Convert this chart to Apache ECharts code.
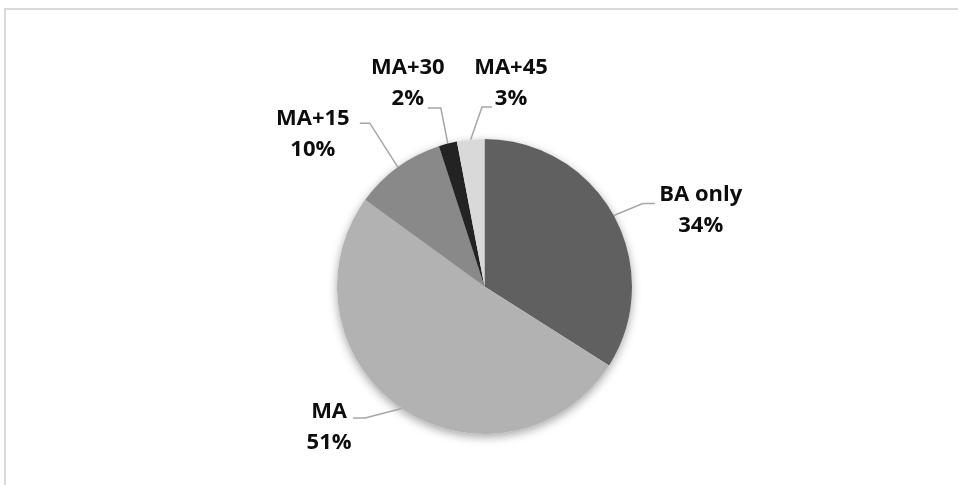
<!DOCTYPE html>
<html>
<head>
<meta charset="utf-8">
<script src="https://cdn.jsdelivr.net/npm/echarts@6/dist/echarts.min.js"></script>
<style>
  html, body { margin: 0; padding: 0; background: #ffffff; }
  #chart { width: 958px; height: 485px; }
</style>
</head>
<body>
<div id="chart"></div>
<script>
// Degree mix of staff
const categories = ['BA only', 'MA', 'MA+15', 'MA+30', 'MA+45'];
const shares = [34, 51, 10, 2, 3];

// Slice fills, one per category
const sliceColors = ['#606060', '#b2b2b2', '#898989', '#232323', '#d9d9d9'];

// Leader-line routing for each label: knee offset from the slice rim point,
// length of the horizontal tail (signed), and text centre offset from the tail end.
const leaderGuides = [
  { knee: [29, -12],   tail: 12,  text: [46, 6.5] },
  { knee: [-36.5, 9.5], tail: -12, text: [-24, 9] },
  { knee: [-28, -44],  tail: -10, text: [-47, 10.7] },
  { knee: [-7, -35.6], tail: -13, text: [-20, -25] },
  { knee: [11.4, -32.7], tail: 10, text: [19, -24] }
];

const PIE_CENTER = [484.5, 286.5];
const PIE_RADIUS = 147.5;

const chart = echarts.init(document.getElementById('chart'), null, { renderer: 'canvas' });

const sliceData = shares.map(function (v, i) {
  return { name: categories[i], value: v, itemStyle: { color: sliceColors[i] } };
});

const option = {
  animation: false,
  backgroundColor: '#ffffff',
  graphic: [
    {
      // chart-area frame, running off the right and bottom edges
      type: 'rect',
      silent: true,
      z: -10,
      shape: { x: 5, y: 9, width: 1400, height: 1400 },
      style: { fill: null, stroke: '#d9d9d9', lineWidth: 2 }
    }
  ],
  series: [
    {
      // soft drop shadow under the whole pie
      type: 'pie',
      silent: true,
      z: 1,
      center: PIE_CENTER,
      radius: PIE_RADIUS,
      data: shares.map(function (v, i) { return { name: categories[i], value: v }; }),
      itemStyle: {
        color: '#ffffff',
        shadowBlur: 10,
        shadowColor: 'rgba(0,0,0,0.35)',
        shadowOffsetY: 3
      },
      label: { show: false },
      labelLine: { show: false }
    },
    {
      type: 'pie',
      z: 2,
      center: PIE_CENTER,
      radius: PIE_RADIUS,
      avoidLabelOverlap: false,
      data: sliceData,
      itemStyle: { borderWidth: 0 },
      label: {
        show: true,
        position: 'outside',
        formatter: function (p) { return p.name + '\n' + p.value + '%'; },
        fontFamily: 'Open Sans',
        fontWeight: 'bold',
        fontSize: 22,
        lineHeight: 31,
        color: '#0d0d0d'
      },
      labelLine: {
        show: true,
        length: 20,
        length2: 10,
        smooth: false,
        lineStyle: { color: '#a6a6a6', width: 1.5 }
      },
      labelLayout: function (p) {
        const g = leaderGuides[p.dataIndex];
        const rim = p.labelLinePoints[0];
        const knee = [rim[0] + g.knee[0], rim[1] + g.knee[1]];
        const end = [knee[0] + g.tail, knee[1]];
        return {
          x: end[0] + g.text[0],
          y: end[1] + g.text[1],
          align: 'center',
          verticalAlign: 'middle',
          labelLinePoints: [rim, knee, end]
        };
      }
    }
  ]
};

chart.setOption(option);
</script>
</body>
</html>
